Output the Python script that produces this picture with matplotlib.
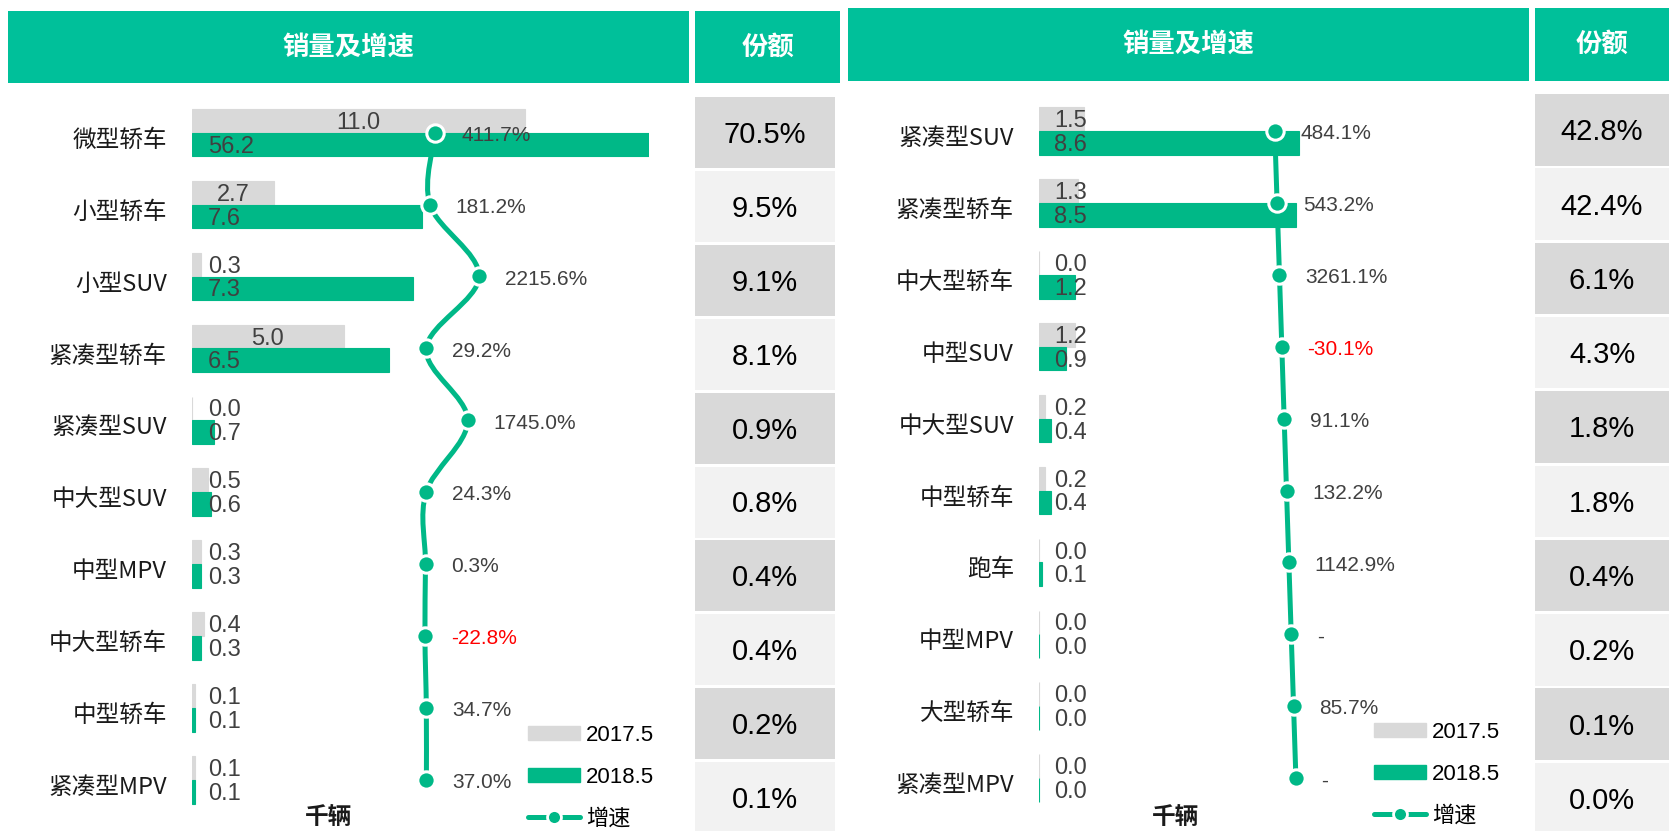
import numpy as np
import matplotlib
matplotlib.use('Agg')
import matplotlib.pyplot as plt
from matplotlib.patches import Rectangle, Patch, PathPatch
from matplotlib.lines import Line2D
from matplotlib.path import Path

plt.rcParams['font.family'] = ['Liberation Sans', 'Noto Sans CJK SC', 'DejaVu Sans']
CJK = ['Noto Sans CJK SC', 'DejaVu Sans']

HEAD_GREEN = '#00C09A'
GREEN = '#00B887'
GRAY = '#D9D9D9'
LIGHT = '#F2F2F2'
TXT = '#404040'

# ---- Daten: linke Tabelle ----
left_cats = ['微型轿车', '小型轿车', '小型SUV', '紧凑型轿车', '紧凑型SUV',
             '中大型SUV', '中型MPV', '中大型轿车', '中型轿车', '紧凑型MPV']
left_2017 = [11.0, 2.7, 0.3, 5.0, 0.0, 0.5, 0.3, 0.4, 0.1, 0.1]
left_2018 = [56.2, 7.6, 7.3, 6.5, 0.7, 0.6, 0.3, 0.3, 0.1, 0.1]
left_growth = [411.7, 181.2, 2215.6, 29.2, 1745.0, 24.3, 0.3, -22.8, 34.7, 37.0]
left_share = [70.5, 9.5, 9.1, 8.1, 0.9, 0.8, 0.4, 0.4, 0.2, 0.1]

# ---- Daten: rechte Tabelle ----
right_cats = ['紧凑型SUV', '紧凑型轿车', '中大型轿车', '中型SUV', '中大型SUV',
              '中型轿车', '跑车', '中型MPV', '大型轿车', '紧凑型MPV']
right_2017 = [1.5, 1.3, 0.0, 1.2, 0.2, 0.2, 0.0, 0.0, 0.0, 0.0]
right_2018 = [8.6, 8.5, 1.2, 0.9, 0.4, 0.4, 0.1, 0.0, 0.0, 0.0]
right_growth = [484.1, 543.2, 3261.1, -30.1, 91.1, 132.2, 1142.9, None, 85.7, None]
right_share = [42.8, 42.4, 6.1, 4.3, 1.8, 1.8, 0.4, 0.2, 0.1, 0.0]

W, H = 1669, 831
fig = plt.figure(figsize=(W / 100, H / 100), dpi=100)


def fx(x):
    return x / W


def fy(y):
    return 1 - y / H


def box(x0, y0, x1, y1, color):
    fig.add_artist(Rectangle((fx(x0), fy(y1)), fx(x1) - fx(x0), fy(y0) - fy(y1),
                             transform=fig.transFigure, facecolor=color,
                             edgecolor='none', zorder=0))


def smooth_path(xs, ys):
    # Catmull-Rom -> kubische Bezier (wie Excel "geglaettete Linie")
    pts = np.column_stack([xs, ys]).astype(float)
    n = len(pts)
    verts = [pts[0]]
    codes = [Path.MOVETO]
    for i in range(n - 1):
        p0 = pts[max(i - 1, 0)]
        p1 = pts[i]
        p2 = pts[i + 1]
        p3 = pts[min(i + 2, n - 1)]
        verts += [p1 + (p2 - p0) / 6, p2 - (p3 - p1) / 6, p2]
        codes += [Path.CURVE4] * 3
    return Path(verts, codes)


def panel(cats, v17, v18, growth, gpos, glim, share, g, smooth):
    n = len(cats)
    pitch = 71.9
    top = g['row0'] - pitch / 2
    bottom = g['row0'] + (n - 0.5) * pitch
    ax = fig.add_axes([fx(g['x0']), fy(bottom), fx(g['x1']) - fx(g['x0']),
                       fy(top) - fy(bottom)])
    rows = np.arange(n)
    bh = 0.331
    ax.barh(rows - bh / 2, v17, height=bh, color=GRAY, edgecolor=GRAY, linewidth=0.8)
    ax.barh(rows + bh / 2, v18, height=bh, color=GREEN, edgecolor=GREEN, linewidth=0.8)
    ax.set_xlim(0, 15.1)
    ax.set_ylim(n - 0.5, -0.5)
    ax.axis('off')

    for i in range(n):
        a, b = v17[i], v18[i]
        if a >= 2:
            ax.annotate(f'{a:.1f}', (a / 2, i - bh / 2), xytext=(0, -1.5),
                        textcoords='offset points', ha='center', va='center',
                        fontsize=17, color=TXT)
        else:
            ax.annotate(f'{a:.1f}', (0, i - bh / 2), xytext=(11, -1.5),
                        textcoords='offset points', ha='left', va='center',
                        fontsize=17, color=TXT, annotation_clip=False)
        ax.annotate(f'{b:.1f}', (0, i + bh / 2), xytext=(11, -1.5),
                    textcoords='offset points', ha='left', va='center',
                    fontsize=17, color=TXT, annotation_clip=False)
        fig.text(fx(g['lab_x']), fy(g['row0'] + i * pitch + 7.5), cats[i], ha='right',
                 va='center', fontsize=17, color='#1A1A1A', family=CJK)

    axg = ax.twiny()
    axg.set_xlim(*glim)
    axg.set_ylim(n - 0.5, -0.5)
    axg.axis('off')
    if smooth:
        axg.add_patch(PathPatch(smooth_path(gpos, rows), fill=False,
                                edgecolor=GREEN, lw=3.6, capstyle='round'))
    else:
        axg.plot(gpos, rows, '-', color=GREEN, lw=3.6, solid_capstyle='round')
    axg.plot(gpos, rows, 'o', ms=12.5, mfc=GREEN, mec='white', mew=2.2, zorder=5)
    for i in range(n):
        gv = growth[i]
        txt = '-' if gv is None else f'{gv:.1f}%'
        col = 'red' if (gv is not None and gv < 0) else TXT
        axg.annotate(txt, (gpos[i], i), xytext=(18.5, -2), textcoords='offset points',
                     ha='left', va='center', fontsize=15, color=col,
                     annotation_clip=False, zorder=6)

    handles = [Patch(color=GRAY), Patch(color=GREEN),
               Line2D([], [], color=GREEN, lw=3.6, marker='o', ms=10,
                      mfc=GREEN, mec='white', mew=2, solid_capstyle='round')]
    axg.legend(handles, ['2017.5', '2018.5', '增速'], loc='upper left',
               bbox_to_anchor=(fx(g['leg_x']), fy(g['leg_y'])),
               bbox_transform=fig.transFigure, frameon=False, fontsize=16,
               handlelength=2.35, handleheight=0.57, handletextpad=0.25,
               labelspacing=0.94, borderpad=0, borderaxespad=0)

    fig.text(fx(g['unit_x']), fy(817), '千辆', ha='center', va='center',
             fontsize=17, fontweight='bold', color='#1A1A1A', family=CJK)

    # Kopfzeilen
    hx0, hx1, sx0, sx1, hy0, hy1 = g['head']
    box(hx0, hy0, hx1, hy1, HEAD_GREEN)
    box(sx0, hy0, sx1, hy1, HEAD_GREEN)
    fig.text(fx((hx0 + hx1) / 2), fy((hy0 + hy1) / 2), '销量及增速', ha='center',
             va='center', fontsize=19, fontweight='bold', color='white', family=CJK)
    fig.text(fx((sx0 + sx1) / 2), fy((hy0 + hy1) / 2), '份额', ha='center',
             va='center', fontsize=19, fontweight='bold', color='white', family=CJK)

    # Anteil-Spalte
    for i in range(n):
        y0 = g['cell_top'] + i * g['cell_pitch']
        y1 = y0 + g['cell_h']
        box(sx0, y0, g['cell_x1'], y1, GRAY if i % 2 == 0 else LIGHT)
        fig.text(fx((sx0 + g['cell_x1']) / 2), fy((y0 + y1) / 2 + 2.5),
                 f'{share[i]:.1f}%', ha='center', va='center', fontsize=21,
                 color='black')


# Wachstums-Achse: links = Wachstum, rechts = Reihenindex
left_geo = dict(x0=192.4, x1=648.8, row0=132.7, lab_x=167, leg_x=528, leg_y=725,
                unit_x=328.5, head=(8, 689, 695, 840, 11, 83),
                cell_top=97, cell_pitch=73.9, cell_h=71, cell_x1=835)
right_geo = dict(x0=1038.8, x1=1495.2, row0=131, lab_x=1014, leg_x=1374, leg_y=722,
                 unit_x=1176, head=(848, 1529, 1535, 1669, 8, 81),
                 cell_top=94, cell_pitch=74.3, cell_h=71.5, cell_x1=1669)

panel(left_cats, left_2017, left_2018, left_growth, np.array(left_growth),
      (-9636, 9231), left_share, left_geo, smooth=True)
panel(right_cats, right_2017, right_2018, right_growth, np.arange(len(right_cats)),
      (-100.4, 93.8), right_share, right_geo, smooth=False)

fig.savefig('out.png', dpi=100)
